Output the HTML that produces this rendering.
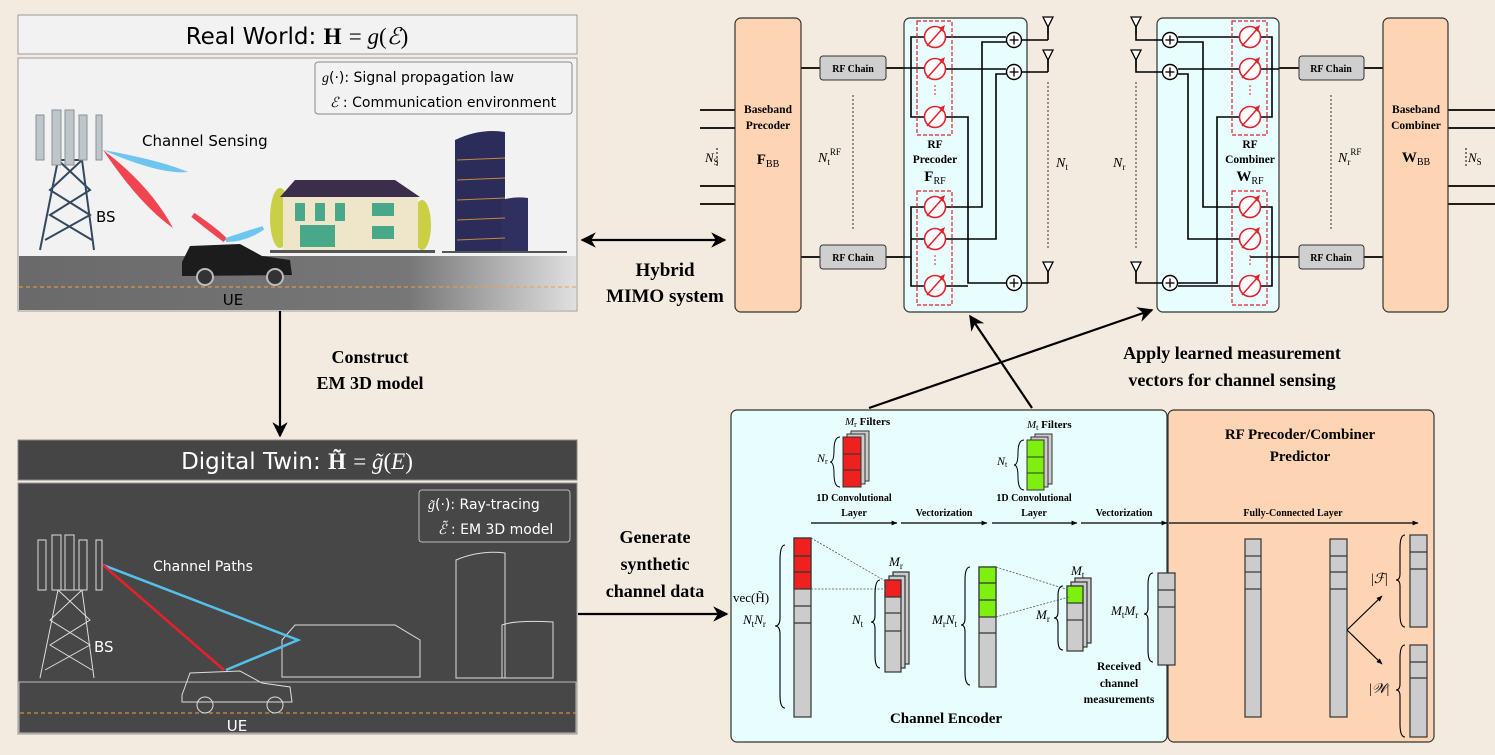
<!DOCTYPE html>
<html><head><meta charset="utf-8"><style>
html,body{margin:0;padding:0;background:#f3ebdf;}
svg{display:block;}
.s{font-family:"Liberation Serif",serif;}
.b{font-weight:bold;}
.sans{font-family:"DejaVu Sans","Liberation Sans",sans-serif;}
</style></head><body>
<svg width="1495" height="755" viewBox="0 0 1495 755" xmlns="http://www.w3.org/2000/svg">
<defs>
<marker id="ah" viewBox="0 0 10 10" refX="9" refY="5" markerWidth="7" markerHeight="7" orient="auto-start-reverse"><path d="M0,0 L10,5 L0,10 L3,5z" fill="#000"/></marker>
<marker id="as" viewBox="0 0 10 10" refX="9" refY="5" markerWidth="5" markerHeight="5" orient="auto"><path d="M0,1 L10,5 L0,9z" fill="#000"/></marker>
<g id="ps"><circle r="10.5" fill="#fff" stroke="#e0202a" stroke-width="1.6"/><line x1="-8" y1="9" x2="8" y2="-9" stroke="#e0202a" stroke-width="1.5"/><path d="M10,-12 L4,-9 L8,-5z" fill="#e0202a"/></g>
<g id="ad"><circle r="7.5" fill="#fff" stroke="#000" stroke-width="1.4"/><line x1="-4.5" y1="0" x2="4.5" y2="0" stroke="#000" stroke-width="1.3"/><line x1="0" y1="-4.5" x2="0" y2="4.5" stroke="#000" stroke-width="1.3"/></g>
<g id="ant"><path d="M-5,-8 L5,-8 L0,2z" fill="#fff" stroke="#000" stroke-width="1.3"/><line x1="0" y1="2" x2="0" y2="10" stroke="#000" stroke-width="1.3"/></g>
</defs>
<rect width="1495" height="755" fill="#f3ebdf"/>

<!-- ===== Real world ===== -->
<rect x="18" y="15" width="559" height="39" fill="#f2f2f2" stroke="#999"/>
<text x="297" y="44" text-anchor="middle" font-size="23" class="sans">Real World: <tspan class="s b">H</tspan> <tspan class="s">= </tspan><tspan class="s" font-style="italic">g</tspan><tspan class="s">(</tspan><tspan class="s" font-style="italic">ℰ</tspan><tspan class="s">)</tspan></text>
<rect x="18" y="58" width="559" height="253" fill="#f2f2f2" stroke="#999"/>
<defs><linearGradient id="road" x1="0" x2="1"><stop offset="0" stop-color="#6a6a6a"/><stop offset="0.7" stop-color="#777"/><stop offset="1" stop-color="#e0e0e0"/></linearGradient></defs>
<rect x="19" y="256" width="557" height="54" fill="url(#road)"/>
<line x1="19" y1="287" x2="576" y2="287" stroke="#f0a030" stroke-dasharray="4,3"/>
<text x="233" y="305" text-anchor="middle" font-size="15" class="sans">UE</text>
<rect x="315" y="62" width="257" height="52" rx="3" fill="#f2f2f2" stroke="#888"/>
<text x="322" y="82" font-size="14" class="sans"><tspan class="s" font-style="italic">g</tspan>(·): Signal propagation law</text>
<text x="330" y="107" font-size="14" class="sans"><tspan class="s" font-style="italic">ℰ</tspan> : Communication environment</text>
<!-- tower -->
<g stroke="#34495e" stroke-width="2" fill="none">
<path d="M40,250 L58,160 L82,160 L94,250"/>
<path d="M58,160 L90,190 L50,215 L92,240 M82,160 L50,190 L90,215 L45,240"/>
</g>
<g fill="#bfc6c9" stroke="#8a9396"><rect x="36" y="115" width="8" height="45"/><rect x="52" y="110" width="9" height="55"/><rect x="65" y="110" width="9" height="55"/><rect x="79" y="115" width="8" height="45"/><rect x="96" y="115" width="6" height="45"/></g>
<text x="96" y="222" font-size="15" class="sans">BS</text>
<text x="142" y="146" font-size="15" class="sans">Channel Sensing</text>
<path d="M103,150 Q160,160 188,172 Q160,175 103,150z" fill="#6ec6f0"/>
<path d="M103,150 Q150,185 173,228 Q140,205 103,150z" fill="#f04550"/>
<path d="M225,240 Q205,225 193,215 Q215,230 225,240z" fill="#f04550" stroke="#f04550" stroke-width="5"/>
<path d="M226,240 Q250,232 263,228 Q245,240 226,240z" fill="#6ec6f0" stroke="#6ec6f0" stroke-width="4"/>
<!-- car -->
<path d="M182,262 L190,246 L240,244 L262,256 L290,260 L292,275 L182,276z" fill="#1c1c1c"/>
<circle cx="205" cy="277" r="8" fill="#333" stroke="#bbb" stroke-width="2"/><circle cx="275" cy="277" r="8" fill="#333" stroke="#bbb" stroke-width="2"/>
<!-- house -->
<ellipse cx="280" cy="218" rx="10" ry="30" fill="#c9d046"/><ellipse cx="422" cy="225" rx="9" ry="25" fill="#c9d046"/>
<rect x="283" y="195" width="135" height="55" fill="#efe6c9"/>
<path d="M280,197 L295,180 L395,180 L420,197z" fill="#3a2e4a"/>
<g fill="#4aa88a"><rect x="295" y="203" width="10" height="18"/><rect x="315" y="203" width="10" height="18"/><rect x="335" y="203" width="10" height="18"/><rect x="372" y="203" width="22" height="13"/><rect x="372" y="226" width="22" height="13"/><rect x="300" y="225" width="35" height="22"/></g>
<rect x="270" y="250" width="165" height="3" fill="#555"/>
<!-- towers -->
<path d="M455,140 Q480,128 505,132 L505,253 L455,253z" fill="#2c2c5a"/>
<path d="M502,200 Q515,196 528,198 L528,253 L502,253z" fill="#303060"/>
<g stroke="#c08a40" stroke-width="1"><line x1="457" y1="160" x2="505" y2="158"/><line x1="457" y1="180" x2="505" y2="178"/><line x1="457" y1="200" x2="505" y2="198"/><line x1="457" y1="220" x2="505" y2="218"/><line x1="457" y1="240" x2="505" y2="238"/></g>
<rect x="442" y="251" width="125" height="2" fill="#555"/>

<!-- arrow down -->
<line x1="280" y1="311" x2="280" y2="436" stroke="#000" stroke-width="2.2" marker-end="url(#ah)"/>
<text x="370" y="363" text-anchor="middle" font-size="18" class="s b">Construct</text>
<text x="370" y="389" text-anchor="middle" font-size="18" class="s b">EM 3D model</text>

<!-- ===== Digital twin ===== -->
<rect x="18" y="440" width="559" height="40" fill="#454545" stroke="#888"/>
<text x="297" y="469" text-anchor="middle" font-size="23" fill="#fff" class="sans">Digital Twin: <tspan class="s b">H̃</tspan> <tspan class="s">= </tspan><tspan class="s" font-style="italic">g̃</tspan><tspan class="s">(</tspan><tspan class="s" font-style="italic">E</tspan><tspan class="s">)</tspan></text>
<rect x="18" y="483" width="559" height="251" fill="#474747" stroke="#999"/>
<rect x="19" y="682" width="557" height="51" fill="#474747" stroke="#bbb"/>
<line x1="20" y1="713" x2="576" y2="713" stroke="#f0a030" stroke-dasharray="4,3"/>
<text x="237" y="731" text-anchor="middle" font-size="15" fill="#fff" class="sans">UE</text>
<rect x="419" y="490" width="151" height="52" rx="3" fill="none" stroke="#bbb"/>
<text x="428" y="509" font-size="14" fill="#fff" class="sans"><tspan class="s" font-style="italic">g̃</tspan>(·): Ray-tracing</text>
<text x="438" y="534" font-size="14" fill="#fff" class="sans"><tspan class="s" font-style="italic">ℰ̃</tspan> : EM 3D model</text>
<g stroke="#ddd" stroke-width="1" fill="none">
<path d="M40,678 L58,590 L82,590 L94,678 M58,590 L90,620 L50,645 L92,670 M82,590 L50,620 L90,645 L45,670"/>
<rect x="38" y="540" width="8" height="50"/><rect x="52" y="535" width="9" height="55"/><rect x="65" y="535" width="9" height="55"/><rect x="79" y="540" width="8" height="50"/><rect x="96" y="540" width="6" height="50"/>
<path d="M282,640 L295,625 L395,625 L420,640 L420,677 L282,677z"/>
<path d="M456,560 Q480,550 505,553 L505,678 L456,678z"/><path d="M502,625 Q515,620 553,622 L553,678 L502,678z"/>
<path d="M182,695 L190,673 L240,671 L262,683 L290,687 L292,702 L182,702z"/>
<circle cx="205" cy="705" r="8"/><circle cx="275" cy="705" r="8"/>
</g>
<text x="94" y="652" font-size="15" fill="#fff" class="sans">BS</text>
<text x="153" y="571" font-size="14" fill="#fff" class="sans">Channel Paths</text>
<polyline points="103,565 298,640 226,670" fill="none" stroke="#55c0ea" stroke-width="2.5"/>
<line x1="103" y1="565" x2="224" y2="670" stroke="#e8202a" stroke-width="2.5"/>

<!-- middle arrows -->
<line x1="582" y1="240" x2="725" y2="240" stroke="#000" stroke-width="2.2" marker-start="url(#ah)" marker-end="url(#ah)"/>
<text x="665" y="276" text-anchor="middle" font-size="19" class="s b">Hybrid</text>
<text x="665" y="302" text-anchor="middle" font-size="19" class="s b">MIMO system</text>
<text x="655" y="543" text-anchor="middle" font-size="18" class="s b">Generate</text>
<text x="655" y="570" text-anchor="middle" font-size="18" class="s b">synthetic</text>
<text x="655" y="597" text-anchor="middle" font-size="18" class="s b">channel data</text>
<line x1="578" y1="614" x2="727" y2="614" stroke="#000" stroke-width="2.2" marker-end="url(#ah)"/>

<!-- ===== Hybrid MIMO ===== -->
<g stroke="#000" stroke-width="1.8">
<line x1="700" y1="110" x2="735" y2="110"/><line x1="700" y1="128" x2="735" y2="128"/><line x1="700" y1="186" x2="735" y2="186"/><line x1="700" y1="204" x2="735" y2="204"/>
<line x1="1448" y1="110" x2="1495" y2="110"/><line x1="1448" y1="128" x2="1495" y2="128"/><line x1="1448" y1="186" x2="1495" y2="186"/><line x1="1448" y1="204" x2="1495" y2="204"/>
<line x1="801" y1="68" x2="820" y2="68"/><line x1="886" y1="68" x2="904" y2="68"/><line x1="801" y1="257" x2="820" y2="257"/><line x1="886" y1="257" x2="904" y2="257"/>
<line x1="1279" y1="68" x2="1299" y2="68"/><line x1="1364" y1="68" x2="1383" y2="68"/><line x1="1279" y1="257" x2="1299" y2="257"/><line x1="1364" y1="257" x2="1383" y2="257"/>
</g>
<rect x="735" y="18" width="66" height="294" rx="6" fill="#fdd5b4" stroke="#333" stroke-width="1.2"/>
<rect x="1383" y="18" width="65" height="294" rx="6" fill="#fdd5b4" stroke="#333" stroke-width="1.2"/>
<text x="768" y="113" text-anchor="middle" font-size="11.5" class="s b">Baseband</text>
<text x="768" y="129" text-anchor="middle" font-size="11.5" class="s b">Precoder</text>
<text x="768" y="164" text-anchor="middle" font-size="15" class="s"><tspan class="b">F</tspan><tspan font-size="10" dy="3">BB</tspan></text>
<text x="1416" y="113" text-anchor="middle" font-size="11.5" class="s b">Baseband</text>
<text x="1416" y="129" text-anchor="middle" font-size="11.5" class="s b">Combiner</text>
<text x="1416" y="162" text-anchor="middle" font-size="15" class="s"><tspan class="b">W</tspan><tspan font-size="10" dy="3">BB</tspan></text>
<text x="705" y="162" font-size="13" class="s" font-style="italic">N<tspan font-size="9" dy="3" font-style="normal">S</tspan></text>
<line x1="717" y1="148" x2="717" y2="168" stroke="#000" stroke-dasharray="2,2"/>
<text x="1468" y="162" font-size="13" class="s" font-style="italic">N<tspan font-size="9" dy="3" font-style="normal">S</tspan></text>
<line x1="1466" y1="148" x2="1466" y2="168" stroke="#000" stroke-dasharray="2,2"/>
<g font-size="10" class="s b" text-anchor="middle">
<rect x="820" y="56" width="66" height="24" rx="3" fill="#cfcfcf" stroke="#333"/><text x="853" y="72">RF Chain</text>
<rect x="820" y="245" width="66" height="24" rx="3" fill="#cfcfcf" stroke="#333"/><text x="853" y="261">RF Chain</text>
<rect x="1299" y="56" width="65" height="24" rx="3" fill="#cfcfcf" stroke="#333"/><text x="1331" y="72">RF Chain</text>
<rect x="1299" y="245" width="65" height="24" rx="3" fill="#cfcfcf" stroke="#333"/><text x="1331" y="261">RF Chain</text>
</g>
<line x1="853" y1="95" x2="853" y2="230" stroke="#333" stroke-dasharray="2,2"/>
<line x1="1331" y1="95" x2="1331" y2="230" stroke="#333" stroke-dasharray="2,2"/>
<text x="818" y="162" font-size="14" class="s" font-style="italic">N<tspan font-size="9" dy="3" font-style="normal">t</tspan><tspan font-size="9" dy="-10" font-style="normal">RF</tspan></text>
<text x="1338" y="162" font-size="14" class="s" font-style="italic">N<tspan font-size="9" dy="3" font-style="normal">r</tspan><tspan font-size="9" dy="-10" font-style="normal">RF</tspan></text>

<rect x="904" y="18" width="123" height="294" rx="6" fill="#e8fdfd" stroke="#333" stroke-width="1.2"/>
<rect x="1157" y="18" width="122" height="294" rx="6" fill="#e8fdfd" stroke="#333" stroke-width="1.2"/>
<!-- precoder wiring -->
<g stroke="#000" stroke-width="1.6" fill="none">
<polyline points="904,68 911,68 911,37 935,37"/><line x1="911" y1="68" x2="935" y2="68"/><polyline points="911,68 911,117 935,117"/>
<polyline points="904,257 911,257 911,207 935,207"/><line x1="911" y1="239" x2="935" y2="239"/><polyline points="911,257 911,286 935,286"/>
<line x1="935" y1="37" x2="1006" y2="37"/><line x1="935" y1="69" x2="1006" y2="69"/>
<polyline points="945,117 968,117 968,283 1006,283"/>
<polyline points="945,207 982,207 982,42 1006,42"/>
<polyline points="945,239 996,239 996,74 1006,74"/>
<polyline points="945,286 968,286"/>
<line x1="1022" y1="40" x2="1048" y2="40"/><line x1="1048" y1="40" x2="1048" y2="25"/>
<line x1="1022" y1="72" x2="1048" y2="72"/><line x1="1048" y1="72" x2="1048" y2="58"/>
<line x1="1022" y1="283" x2="1048" y2="283"/><line x1="1048" y1="283" x2="1048" y2="270"/>
</g>
<rect x="917" y="21" width="35" height="114" fill="none" stroke="#e0202a" stroke-width="1.2" stroke-dasharray="4,2"/>
<rect x="917" y="191" width="35" height="114" fill="none" stroke="#e0202a" stroke-width="1.2" stroke-dasharray="4,2"/>
<use href="#ps" x="935" y="37"/><use href="#ps" x="935" y="69"/><use href="#ps" x="935" y="117"/>
<use href="#ps" x="935" y="207"/><use href="#ps" x="935" y="239"/><use href="#ps" x="935" y="286"/>
<line x1="935" y1="85" x2="935" y2="97" stroke="#e0202a" stroke-dasharray="2,2"/><line x1="935" y1="255" x2="935" y2="267" stroke="#e0202a" stroke-dasharray="2,2"/>
<use href="#ad" x="1014" y="40"/><use href="#ad" x="1014" y="72"/><use href="#ad" x="1014" y="283"/>
<use href="#ant" x="1048" y="25"/><use href="#ant" x="1048" y="58"/><use href="#ant" x="1048" y="270"/>
<text x="935" y="148" text-anchor="middle" font-size="11.5" class="s b">RF</text>
<text x="935" y="163" text-anchor="middle" font-size="11.5" class="s b">Precoder</text>
<text x="935" y="181" text-anchor="middle" font-size="15" class="s"><tspan class="b">F</tspan><tspan font-size="10" dy="3">RF</tspan></text>
<line x1="1048" y1="82" x2="1048" y2="250" stroke="#333" stroke-dasharray="2,2"/>
<text x="1056" y="167" font-size="14" class="s" font-style="italic">N<tspan font-size="9" dy="3" font-style="normal">t</tspan></text>
<!-- combiner wiring -->
<g stroke="#000" stroke-width="1.6" fill="none">
<polyline points="1136,25 1136,40 1162,40"/><polyline points="1136,58 1136,72 1162,72"/><polyline points="1136,270 1136,283 1162,283"/>
<line x1="1178" y1="37" x2="1250" y2="37"/><line x1="1178" y1="69" x2="1250" y2="69"/>
<polyline points="1178,42 1203,42 1203,207 1250,207"/>
<polyline points="1178,74 1188,74 1188,239 1250,239"/>
<polyline points="1178,283 1217,283 1217,117 1250,117"/>
<line x1="1178" y1="286" x2="1250" y2="286"/>
<polyline points="1250,37 1272,37 1272,117 1250,117"/><line x1="1250" y1="69" x2="1279" y2="69"/>
<polyline points="1250,207 1272,207 1272,286 1250,286"/><line x1="1250" y1="257" x2="1279" y2="257"/>
</g>
<rect x="1232" y="21" width="35" height="114" fill="none" stroke="#e0202a" stroke-width="1.2" stroke-dasharray="4,2"/>
<rect x="1232" y="191" width="35" height="114" fill="none" stroke="#e0202a" stroke-width="1.2" stroke-dasharray="4,2"/>
<use href="#ps" x="1250" y="37"/><use href="#ps" x="1250" y="69"/><use href="#ps" x="1250" y="117"/>
<use href="#ps" x="1250" y="207"/><use href="#ps" x="1250" y="239"/><use href="#ps" x="1250" y="286"/>
<line x1="1250" y1="85" x2="1250" y2="97" stroke="#e0202a" stroke-dasharray="2,2"/><line x1="1250" y1="255" x2="1250" y2="267" stroke="#e0202a" stroke-dasharray="2,2"/>
<use href="#ad" x="1170" y="40"/><use href="#ad" x="1170" y="72"/><use href="#ad" x="1170" y="283"/>
<use href="#ant" x="1136" y="25"/><use href="#ant" x="1136" y="58"/><use href="#ant" x="1136" y="270"/>
<text x="1250" y="148" text-anchor="middle" font-size="11.5" class="s b">RF</text>
<text x="1250" y="163" text-anchor="middle" font-size="11.5" class="s b">Combiner</text>
<text x="1250" y="181" text-anchor="middle" font-size="15" class="s"><tspan class="b">W</tspan><tspan font-size="10" dy="3">RF</tspan></text>
<line x1="1136" y1="82" x2="1136" y2="250" stroke="#333" stroke-dasharray="2,2"/>
<text x="1113" y="167" font-size="14" class="s" font-style="italic">N<tspan font-size="9" dy="3" font-style="normal">r</tspan></text>

<!-- apply arrows -->
<line x1="869" y1="408" x2="1152" y2="310" stroke="#000" stroke-width="2.2" marker-end="url(#ah)"/>
<line x1="1032" y1="408" x2="970" y2="316" stroke="#000" stroke-width="2.2" marker-end="url(#ah)"/>
<text x="1232" y="359" text-anchor="middle" font-size="18" class="s b">Apply learned measurement</text>
<text x="1232" y="386" text-anchor="middle" font-size="18" class="s b">vectors for channel sensing</text>

<!-- ===== Channel encoder ===== -->
<rect x="731" y="410" width="436" height="332" rx="6" fill="#e8fdfd" stroke="#333" stroke-width="1.2"/>
<rect x="1168" y="410" width="266" height="332" rx="6" fill="#fdd5b4" stroke="#333" stroke-width="1.2"/>
<text x="1300" y="439" text-anchor="middle" font-size="15" class="s b">RF Precoder/Combiner</text>
<text x="1300" y="461" text-anchor="middle" font-size="15" class="s b">Predictor</text>
<!-- filters -->
<g stroke="#333" stroke-width="1"><rect x="851" y="431" width="18" height="50" fill="#ccc"/><rect x="847" y="434" width="18" height="50" fill="#ccc"/><rect x="843" y="437" width="18" height="50" fill="#ee2020"/><line x1="843" y1="454" x2="861" y2="454"/><line x1="843" y1="470" x2="861" y2="470"/></g>
<g stroke="#333" stroke-width="1"><rect x="1035" y="434" width="17" height="50" fill="#ccc"/><rect x="1031" y="437" width="17" height="50" fill="#ccc"/><rect x="1027" y="440" width="17" height="50" fill="#7ef010"/><line x1="1027" y1="457" x2="1044" y2="457"/><line x1="1027" y1="473" x2="1044" y2="473"/></g>
<text x="845" y="425" font-size="11" class="s"><tspan font-style="italic">M</tspan><tspan font-size="8" dy="2">r</tspan><tspan class="b" dy="-2">  Filters</tspan></text>
<text x="1027" y="428" font-size="11" class="s"><tspan font-style="italic">M</tspan><tspan font-size="8" dy="2">t</tspan><tspan class="b" dy="-2">  Filters</tspan></text>
<text x="817" y="462" font-size="12" class="s" font-style="italic">N<tspan font-size="8" dy="2" font-style="normal">r</tspan></text>
<text x="997" y="465" font-size="12" class="s" font-style="italic">N<tspan font-size="8" dy="2" font-style="normal">t</tspan></text>
<path d="M840,437 Q834,437 834,450 Q834,462 830,462 Q834,462 834,474 Q834,487 840,487" fill="none" stroke="#000"/>
<path d="M1024,440 Q1018,440 1018,453 Q1018,465 1014,465 Q1018,465 1018,477 Q1018,490 1024,490" fill="none" stroke="#000"/>
<g font-size="10" class="s b" text-anchor="middle">
<text x="854" y="501">1D Convolutional</text><text x="854" y="516">Layer</text>
<text x="1034" y="501">1D Convolutional</text><text x="1034" y="516">Layer</text>
<text x="944" y="516">Vectorization</text><text x="1124" y="516">Vectorization</text>
<text x="1293" y="516">Fully-Connected Layer</text>
</g>
<g stroke="#000" stroke-width="1.2" marker-end="url(#as)">
<line x1="811" y1="523" x2="897" y2="523"/><line x1="901" y1="523" x2="987" y2="523"/><line x1="992" y1="523" x2="1077" y2="523"/><line x1="1081" y1="523" x2="1167" y2="523"/><line x1="1169" y1="523" x2="1418" y2="523"/>
</g>
<!-- columns -->
<g stroke="#333" stroke-width="1.2">
<rect x="794" y="538" width="17" height="179" fill="#ccc"/>
<rect x="794" y="538" width="17" height="51" fill="#ee2020"/>
<line x1="794" y1="556" x2="811" y2="556"/><line x1="794" y1="572" x2="811" y2="572"/><line x1="794" y1="606" x2="811" y2="606"/><line x1="794" y1="623" x2="811" y2="623"/>
<rect x="893" y="572" width="16" height="92" fill="#ccc"/><rect x="889" y="576" width="16" height="92" fill="#ccc"/>
<rect x="885" y="580" width="16" height="92" fill="#ccc"/><rect x="885" y="580" width="16" height="17" fill="#ee2020"/>
<line x1="885" y1="613" x2="901" y2="613"/><line x1="885" y1="631" x2="901" y2="631"/>
<rect x="979" y="567" width="17" height="120" fill="#ccc"/><rect x="979" y="567" width="17" height="50" fill="#7ef010"/>
<line x1="979" y1="583" x2="996" y2="583"/><line x1="979" y1="600" x2="996" y2="600"/><line x1="979" y1="633" x2="996" y2="633"/>
<rect x="1075" y="578" width="16" height="65" fill="#ccc"/><rect x="1071" y="582" width="16" height="65" fill="#ccc"/>
<rect x="1067" y="586" width="16" height="65" fill="#ccc"/><rect x="1067" y="586" width="16" height="17" fill="#7ef010"/>
<line x1="1067" y1="620" x2="1083" y2="620"/>
<rect x="1158" y="573" width="17" height="92" fill="#ccc"/><line x1="1158" y1="590" x2="1175" y2="590"/><line x1="1158" y1="607" x2="1175" y2="607"/>
<rect x="1245" y="539" width="16" height="178" fill="#ccc"/><line x1="1245" y1="556" x2="1261" y2="556"/><line x1="1245" y1="572" x2="1261" y2="572"/><line x1="1245" y1="589" x2="1261" y2="589"/>
<rect x="1330" y="539" width="17" height="178" fill="#ccc"/><line x1="1330" y1="556" x2="1347" y2="556"/><line x1="1330" y1="572" x2="1347" y2="572"/><line x1="1330" y1="589" x2="1347" y2="589"/>
<rect x="1410" y="535" width="17" height="92" fill="#ccc"/><line x1="1410" y1="552" x2="1427" y2="552"/><line x1="1410" y1="569" x2="1427" y2="569"/>
<rect x="1410" y="645" width="17" height="92" fill="#ccc"/><line x1="1410" y1="662" x2="1427" y2="662"/><line x1="1410" y1="678" x2="1427" y2="678"/>
</g>
<g stroke="#555" stroke-width="0.8" stroke-dasharray="2,1.5" fill="none">
<line x1="811" y1="538" x2="887" y2="582"/><line x1="811" y1="589" x2="887" y2="589"/>
<line x1="996" y1="567" x2="1069" y2="590"/><line x1="996" y1="617" x2="1069" y2="597"/>
</g>
<g stroke="#000" stroke-width="1.2" marker-end="url(#as)"><line x1="1347" y1="630" x2="1382" y2="596"/><line x1="1347" y1="630" x2="1382" y2="664"/></g>
<!-- braces -->
<g fill="none" stroke="#000" stroke-width="1.1">
<path d="M785,545 Q780,545 780,560 L780,618 Q780,626 775,626 Q780,626 780,634 L780,695 Q780,708 785,708"/>
<path d="M880,580 Q875,580 875,595 L875,615 Q875,622 871,622 Q875,622 875,629 L875,655 Q875,668 880,668"/>
<path d="M970,567 Q965,567 965,580 L965,618 Q965,625 961,625 Q965,625 965,632 L965,672 Q965,685 970,685"/>
<path d="M1063,586 Q1058,586 1058,596 L1058,612 Q1058,618 1054,618 Q1058,618 1058,624 L1058,640 Q1058,650 1063,650"/>
<path d="M1153,573 Q1148,573 1148,585 L1148,608 Q1148,614 1144,614 Q1148,614 1148,620 L1148,650 Q1148,662 1153,662"/>
<path d="M1405,535 Q1400,535 1400,548 L1400,574 Q1400,580 1396,580 Q1400,580 1400,586 L1400,614 Q1400,627 1405,627"/>
<path d="M1405,645 Q1400,645 1400,658 L1400,684 Q1400,690 1396,690 Q1400,690 1400,696 L1400,724 Q1400,737 1405,737"/>
</g>
<g class="s" font-size="13">
<text x="733" y="602">vec(H̃)</text>
<text x="743" y="624" font-style="italic">N<tspan font-size="9" dy="3" font-style="normal">t</tspan><tspan dy="-3">N</tspan><tspan font-size="9" dy="3" font-style="normal">r</tspan></text>
<text x="889" y="566" font-style="italic">M<tspan font-size="9" dy="3" font-style="normal">r</tspan></text>
<text x="852" y="624" font-style="italic">N<tspan font-size="9" dy="3" font-style="normal">t</tspan></text>
<text x="932" y="624" font-style="italic">M<tspan font-size="9" dy="3" font-style="normal">r</tspan><tspan dy="-3">N</tspan><tspan font-size="9" dy="3" font-style="normal">t</tspan></text>
<text x="1071" y="575" font-style="italic">M<tspan font-size="9" dy="3" font-style="normal">t</tspan></text>
<text x="1036" y="619" font-style="italic">M<tspan font-size="9" dy="3" font-style="normal">r</tspan></text>
<text x="1111" y="615" font-style="italic">M<tspan font-size="9" dy="3" font-style="normal">t</tspan><tspan dy="-3">M</tspan><tspan font-size="9" dy="3" font-style="normal">r</tspan></text>
<text x="1371" y="583" font-size="14">|<tspan font-style="italic">ℱ</tspan>|</text>
<text x="1369" y="693" font-size="14">|<tspan font-style="italic">𝒲</tspan>|</text>
</g>
<g class="s b" font-size="11.5" text-anchor="middle">
<text x="1119" y="670">Received</text><text x="1119" y="687">channel</text><text x="1119" y="703">measurements</text>
</g>
<text x="946" y="723" text-anchor="middle" font-size="15" class="s b">Channel Encoder</text>
</svg>
</body></html>
